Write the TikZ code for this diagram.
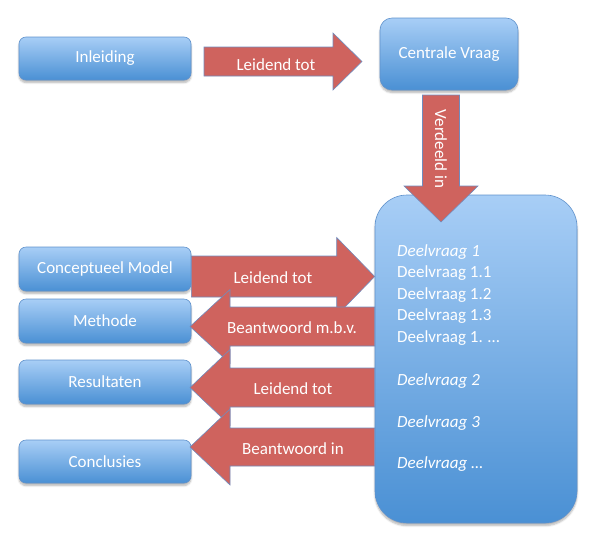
\documentclass[tikz,border=0pt]{standalone}
\usepackage{fontspec}
\setmainfont{Carlito}
\usetikzlibrary{calc,shadows.blur}
\definecolor{boxtop}{RGB}{168,206,246}
\definecolor{boxbot}{RGB}{74,144,212}
\definecolor{boxline}{RGB}{96,146,204}
\definecolor{arrfill}{RGB}{207,99,94}
\definecolor{arrline}{RGB}{112,140,190}
\tikzset{
  boxstyle/.style={draw=boxline, line width=0.6pt, top color=boxtop, bottom color=boxbot,
    rounded corners=7pt, text=white, font=\fontsize{17}{20}\selectfont,
    blur shadow={shadow xshift=0pt, shadow yshift=-2.5pt, shadow blur steps=6, shadow opacity=30}},
  arrowshape/.style={draw=arrline, line width=0.6pt, fill=arrfill, line join=miter},
  lbl/.style={text=white, font=\fontsize{17}{20}\selectfont, inner sep=0pt},
  dvtext/.style={text=white, font=\fontsize{17}{20}\selectfont, inner sep=0pt, anchor=west}
}
\newcommand\fatarrow[5]{%
  \coordinate (fa-h) at ($(#2)!#5!(#1)$);
  \draw[arrowshape] ($(#1)!#3!90:(#2)$) -- ($(fa-h)!#3!90:(#2)$) -- ($(fa-h)!#4!90:(#2)$)
    -- (#2) -- ($(fa-h)!#4!-90:(#2)$) -- ($(fa-h)!#3!-90:(#2)$) -- ($(#1)!#3!-90:(#2)$) -- cycle;}
\begin{document}
\begin{tikzpicture}[x=1pt,y=-1pt]
\useasboundingbox (0,0) rectangle (593,536);
% boxes
\node[boxstyle, minimum width=172pt, minimum height=43pt] (inl) at (105,58.5) {Inleiding};
\node[boxstyle, rounded corners=12pt, minimum width=138pt, minimum height=72pt] (cv) at (449,54) {Centrale Vraag};
\node[boxstyle, rounded corners=32pt, minimum width=202pt, minimum height=328pt] (dv) at (476,359) {};
\node[boxstyle, minimum width=172pt, minimum height=44pt] (cm) at (105,269) {Conceptueel Model};
\node[boxstyle, minimum width=172pt, minimum height=44pt] (me) at (105,321) {Methode};
\node[boxstyle, minimum width=172pt, minimum height=44pt] (re) at (105,382) {Resultaten};
\node[boxstyle, minimum width=172pt, minimum height=43pt] (co) at (105,461.5) {Conclusies};
% arrow end points
\coordinate (a1s) at (204,61.5);   \coordinate (a1e) at (362,61.5);
\coordinate (a2s) at (441,95);     \coordinate (a2e) at (441,222);
\coordinate (a3s) at (cm.east |- 0,276.5); \coordinate (a3e) at (dv.west |- 0,276.5);
\coordinate (a4s) at (dv.west |- 0,326.5); \coordinate (a4e) at (190,326.5);
\coordinate (a5s) at (dv.west |- 0,387.5); \coordinate (a5e) at (190,387.5);
\coordinate (a6s) at (dv.west |- 0,447);   \coordinate (a6e) at (190,447);
% arrows
\fatarrow{a1s}{a1e}{14.5pt}{28.5pt}{29pt}
\node[lbl] (l1) at (276,64.5) {Leidend tot};
\fatarrow{a2s}{a2e}{18.5pt}{37pt}{36pt}
\node[lbl, rotate=-90] (l2) at (441,149) {Verdeeld in};
\fatarrow{a3s}{a3e}{20.5pt}{39pt}{38pt}
\node[lbl] (l3) at (273,278) {Leidend tot};
\fatarrow{a4s}{a4e}{19.5pt}{37pt}{40pt}
\node[lbl] (l4) at (292,328) {Beantwoord m.b.v.};
\fatarrow{a5s}{a5e}{19.5pt}{38pt}{40pt}
\node[lbl] (l5) at (293,389) {Leidend tot};
\fatarrow{a6s}{a6e}{19pt}{38pt}{40pt}
\node[lbl] (l6) at (293,449) {Beantwoord in};
% deelvragen
\node[dvtext] (q1) at (397,252) {\itshape Deelvraag 1};
\node[dvtext] (q2) at (397,273.5) {Deelvraag 1.1};
\node[dvtext] (q3) at (397,295) {Deelvraag 1.2};
\node[dvtext] (q4) at (397,316.5) {Deelvraag 1.3};
\node[dvtext] (q5) at (397,338) {Deelvraag 1. …};
\node[dvtext] (q6) at (397,381) {\itshape Deelvraag 2};
\node[dvtext] (q7) at (397,423) {\itshape Deelvraag 3};
\node[dvtext] (q8) at (397,464) {\itshape Deelvraag …};
\end{tikzpicture}
\end{document}
